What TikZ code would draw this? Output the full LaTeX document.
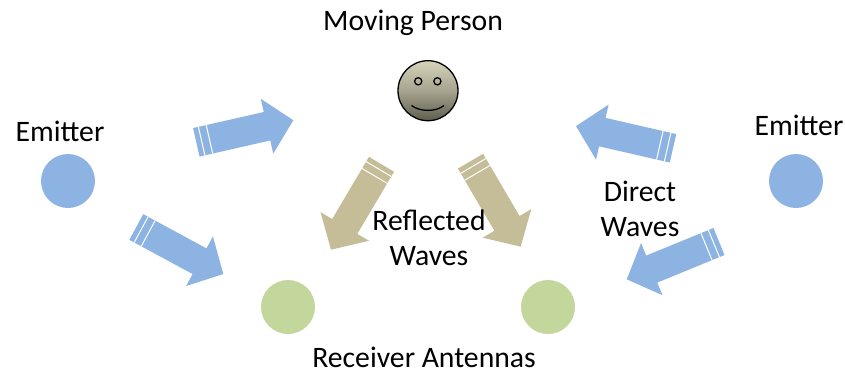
\documentclass[tikz,border=0pt]{standalone}
\usepackage{fontspec}
\setmainfont{Carlito}
\definecolor{wblue}{HTML}{8DB3E2}
\definecolor{wtan}{HTML}{C4BD97}
\definecolor{wgreen}{HTML}{C3D69B}
\definecolor{ftop}{HTML}{D6D3BA}
\definecolor{fbot}{HTML}{5F5D4E}
\tikzset{
  label text/.style={font=\fontsize{29.7}{35}\selectfont,align=center,inner sep=0pt,text=black},
  disc/.style={circle,minimum size=54pt,inner sep=0pt,draw=none},
  stripe/.style={draw=white,line width=1pt},
}
\newcommand{\wavearrow}[4]{%
  \begin{scope}[shift={(#1)},rotate=#2]
    \fill[#4] (0,-14.6pt) -- (#3pt-27pt,-14.6pt) -- (#3pt-27pt,-28.2pt) -- (#3pt,0) -- (#3pt-27pt,28.2pt) -- (#3pt-27pt,14.6pt) -- (0,14.6pt) -- cycle;
    \draw[stripe] (5.5pt,-14.6pt) -- (5.5pt,14.6pt);
    \draw[stripe] (13.5pt,-14.6pt) -- (13.5pt,14.6pt);
  \end{scope}}
\begin{document}
\begin{tikzpicture}[x=1pt,y=-1pt]
\useasboundingbox (0,0) rectangle (845,370);
\wavearrow{196.3,142.3}{12.8}{99.5}{wblue}
\wavearrow{136.3,227}{-28.4}{98.9}{wblue}
\wavearrow{673,148.3}{167.1}{99.5}{wblue}
\wavearrow{719,241.5}{202.3}{99.7}{wblue}
\wavearrow{381.5,164.3}{239.4}{99.2}{wtan}
\wavearrow{470.5,161.2}{-59.6}{99.1}{wtan}
\node[disc,fill=wblue] (em1) at (68,181) {};
\node[disc,fill=wblue] (em2) at (796,181) {};
\node[disc,fill=wgreen] (rx1) at (288,307) {};
\node[disc,fill=wgreen] (rx2) at (548,307) {};
\node[circle,minimum size=60pt,inner sep=0pt,draw=black,line width=1.3pt,top color=ftop,bottom color=fbot,middle color=ftop!60!fbot] (face) at (428,90.7) {};
\draw[black,line width=1.3pt] (418.2,81.3) circle (3.6);
\draw[black,line width=1.3pt] (437.4,81.3) circle (3.6);
\draw[black,line width=1.3pt] (411.5,105.5) .. controls (420,112) and (436,112) .. (444,105.5);
\node[label text] (t1) at (413,23) {Moving Person};
\node[label text] (t2) at (60,131) {Emitter};
\node[label text] (t3) at (799,125) {Emitter};
\node[label text] (t4) at (429,238) {Reflected\\Waves};
\node[label text] (t5) at (640,209) {Direct\\Waves};
\node[label text] (t6) at (424,357) {Receiver Antennas};
\end{tikzpicture}
\end{document}
